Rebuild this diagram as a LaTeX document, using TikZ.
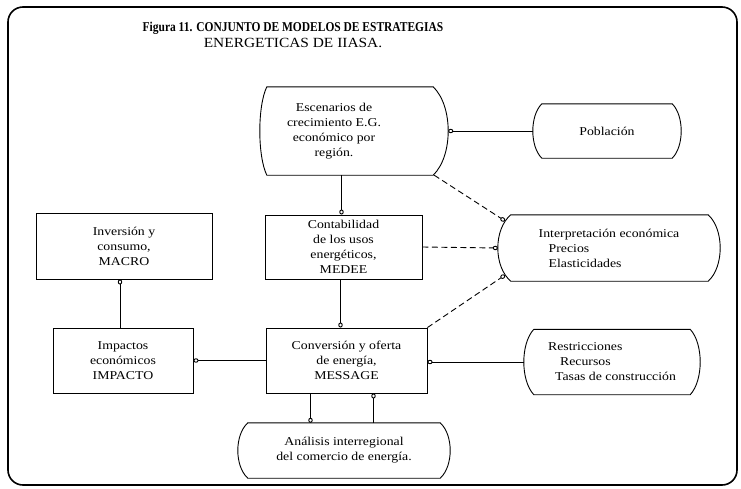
\documentclass[tikz,border=0pt]{standalone}
\usepackage{fontspec}
\setmainfont{Liberation Serif}[FakeStretch=1.15]
\newfontfamily\headbold{Liberation Serif}[FakeStretch=0.85]
\newfontfamily\headplain{Liberation Serif}[FakeStretch=1.1]
\usetikzlibrary{arrows.meta}

% Outline with straight top/bottom edges and bulging sides.
% #1 node name, #2 left bulge, #3 right bulge (pt), #4 node height (pt)
\newcommand\arcsides[4]{%
  \draw[outline] ([xshift=#2pt]#1.north west) -- ([xshift=-#3pt]#1.north east)
    .. controls +({4*#3/3},{0.22*#4}) and +({4*#3/3},{-0.22*#4}) .. ([xshift=-#3pt]#1.south east)
    -- ([xshift=#2pt]#1.south west)
    .. controls +({-4*#2/3},{-0.22*#4}) and +({-4*#2/3},{0.22*#4}) .. ([xshift=#2pt]#1.north west) -- cycle;}

\begin{document}
\begin{tikzpicture}[x=1pt,y=-1pt,
  every node/.style={font=\fontsize{12}{15}\selectfont, align=center},
  outline/.style={line width=0.9pt, line join=round},
  box/.style={draw, line width=0.9pt, inner sep=0pt},
  shell/.style={inner sep=0pt},
  flow/.style={line width=0.9pt, -{Circle[open,length=5pt,width=4.4pt]}},
  dflow/.style={flow, dash pattern=on 6pt off 3.5pt}]

\useasboundingbox (0,0) rectangle (741,488);
\draw[line width=1.6pt, rounded corners=15pt] (8,7) rectangle (737,485);

% heading
\node[inner sep=0pt] (title) at (293,35)
  {{\headbold\bfseries\fontsize{13.5}{15}\selectfont Figura 11. CONJUNTO DE MODELOS DE ESTRATEGIAS}\\[1pt]
   {\headplain\fontsize{14}{15}\selectfont ENERGETICAS DE IIASA.}};

% rectangular model blocks
\node[box, minimum width=157pt, minimum height=64pt] (medee) at (343.5,247)
  {Contabilidad\\de los usos\\energéticos,\\MEDEE};
\node[box, minimum width=176pt, minimum height=66pt] (macro) at (124,246)
  {Inversión y\\consumo,\\MACRO};
\node[box, minimum width=140pt, minimum height=65pt] (impacto) at (123,360.5)
  {Impactos\\económicos\\IMPACTO};
\node[box, minimum width=161pt, minimum height=65pt] (message) at (346.5,360.5)
  {Conversión y oferta\\de energía,\\MESSAGE};

% blocks with curved sides
\node[shell, minimum width=188pt, minimum height=88pt] (esc) at (354,131) {};
\arcsides{esc}{7}{15}{88}
\node (esctext) at (334,131) {Escenarios de\\crecimiento E.G.\\económico por\\región.};

\node[shell, minimum width=148pt, minimum height=54pt] (pob) at (607,131) {Población};
\arcsides{pob}{9}{9}{54}

\node[shell, minimum width=222pt, minimum height=66pt, align=left] (interp) at (609,248)
  {Interpretación económica\\\hspace*{10pt}Precios\\\hspace*{10pt}Elasticidades};
\arcsides{interp}{13}{12}{66}

\node[shell, minimum width=176pt, minimum height=65pt, align=left] (restr) at (612,362)
  {Restricciones\\\hspace*{12pt}Recursos\\\hspace*{7pt}Tasas de construcción};
\arcsides{restr}{10}{10}{65}

\node[shell, minimum width=212pt, minimum height=55pt] (anal) at (344,450.5)
  {Análisis interregional\\del comercio de energía.};
\arcsides{anal}{10}{10}{55}

% connectors
\draw[flow] (pob.west) -- (esc.east);
\draw[flow] ([xshift=-2pt]esc.south -| medee.north) -- ([xshift=-2pt]medee.north);
\draw[flow] ([xshift=-3pt]medee.south) -- ([xshift=-3pt]medee.south |- message.north);
\draw[flow] (message.west) -- (impacto.east);
\draw[flow] ([xshift=-3pt]impacto.north) -- ([xshift=-3pt]impacto.north |- macro.south);
\draw[flow] (restr.west) -- (restr.west -| message.east);
\coordinate (mdown) at ([xshift=-36pt]message.south);
\coordinate (mup) at ([xshift=27pt]message.south);
\draw[flow] (mdown) -- (mdown |- anal.north);
\draw[flow] (mup |- anal.north) -- (mup);

\draw[dflow] ([xshift=-14pt]esc.south east) -- ([xshift=7pt,yshift=-6pt]interp.north west);
\draw[dflow] (medee.east) -- (interp.west);
\draw[dflow] (message.north east) -- ([xshift=7pt,yshift=6pt]interp.south west);
\end{tikzpicture}
\end{document}
